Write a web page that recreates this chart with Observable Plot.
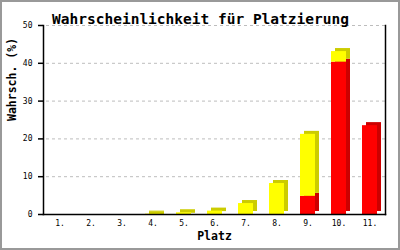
<!DOCTYPE html>
<html>
<head>
<meta charset="utf-8">
<script src="https://cdn.jsdelivr.net/npm/d3@7"></script>
<script src="https://cdn.jsdelivr.net/npm/@observablehq/plot@0.6"></script>
<style>
  html, body { margin: 0; padding: 0; background: #fff; }
  #wrap { position: relative; width: 400px; height: 250px; overflow: hidden; }
  #border { position: absolute; left: 0; top: 0; width: 400px; height: 250px; box-sizing: border-box; border: 2px solid #999; pointer-events: none; }
</style>
</head>
<body>
<div id="wrap"><div id="border"></div></div>
<script>
const categories = ["1.", "2.", "3.", "4.", "5.", "6.", "7.", "8.", "9.", "10.", "11."];
const redValues =    [0, 0, 0, 0,   0,    0,   0,   0,   4.8, 40.3, 23.5];
const yellowValues = [0, 0, 0, 0.1, 0.45, 0.9, 2.9, 8.2, 16.4, 2.8, 0];
const yTicks = [0, 10, 20, 30, 40, 50];
const gridTicks = [10, 20, 30, 40, 50];
const title = "Wahrscheinlichkeit für Platzierung";
const xLabel = "Platz";
const yLabel = "Wahrsch. (%)";

const RED = "#ff0000", RED_SIDE = "#cc0000", YEL = "#ffff00", YEL_SIDE = "#cccc00";

const rows = [];
categories.forEach((cat, i) => {
  const r = redValues[i], y = yellowValues[i];
  if (r > 0) rows.push({cat, y1: 0, y2: r, front: RED, side: RED_SIDE});
  if (y > 0) rows.push({cat, y1: r, y2: r + y, front: YEL, side: YEL_SIDE});
});

const font = "'DejaVu Sans Mono', 'Liberation Mono', monospace";
const inset = 8;

const chart = Plot.plot({
  width: 400,
  height: 250,
  marginLeft: 43,
  marginRight: 15,
  marginTop: 25,
  marginBottom: 36,
  style: {fontFamily: font, fontSize: "8px", color: "black", background: "transparent"},
  x: {domain: categories, padding: 0, axis: null},
  y: {domain: [0, 50], axis: null},
  color: {type: "identity"},
  marks: [
    Plot.ruleY(gridTicks, {stroke: "#bdbdbd", strokeDasharray: "3,3", strokeDashoffset: -3}),
    Plot.barY(rows, {x: "cat", y1: "y1", y2: "y2", fill: d => d.side, dx: 4, dy: -3, insetLeft: inset, insetRight: inset}),
    Plot.tickY(rows, {x: "cat", y: "y2", stroke: d => d.side, strokeWidth: 3, dx: 4, dy: -1.5, insetLeft: inset, insetRight: inset}),
    Plot.barY(rows, {x: "cat", y1: "y1", y2: "y2", fill: d => d.front, insetLeft: inset, insetRight: inset}),
    Plot.frame({anchor: "left", stroke: "black", strokeWidth: 1.5}),
    Plot.frame({anchor: "right", stroke: "black", strokeWidth: 1.5}),
    Plot.frame({anchor: "bottom", stroke: "black", strokeWidth: 1.5}),
    Plot.axisY({ticks: yTicks, tickSize: 5, tickPadding: 6, strokeWidth: 1.5, fontSize: 8, label: null}),
    Plot.axisX({tickSize: 0, tickPadding: 6, fontSize: 8, label: null}),
    Plot.text([title], {frameAnchor: "top", dx: -14, dy: -12, fontSize: 14.5, fontWeight: "bold", fontFamily: font, fill: "black"}),
    Plot.text([yLabel], {frameAnchor: "left", dx: -31, dy: 1, rotate: -90, fontSize: 11.5, fontWeight: "bold", fontFamily: font, fill: "black"}),
    Plot.text([xLabel], {frameAnchor: "bottom", dy: 25, fontSize: 11.5, fontWeight: "bold", fontFamily: font, fill: "black"})
  ]
});
document.getElementById("wrap").prepend(chart);
</script>
</body>
</html>
